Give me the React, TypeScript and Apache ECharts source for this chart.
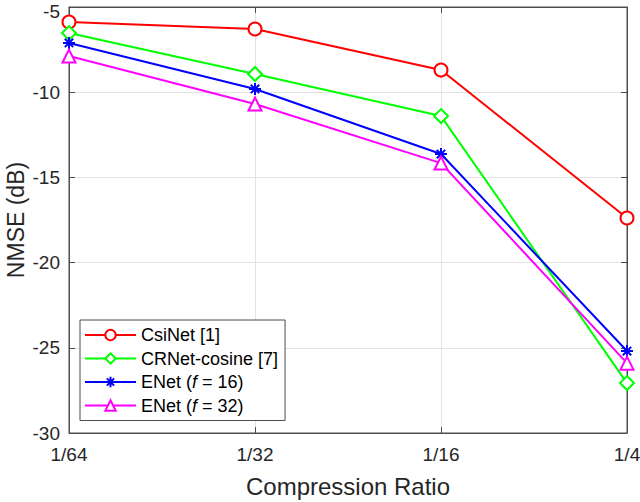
import React, { useEffect, useRef } from "react";
import * as echarts from "echarts";

const categories = ["1/64", "1/32", "1/16", "1/4"];
const csiNet = [-5.88, -6.29, -8.7, -17.38];
const crNetCosine = [-6.53, -8.93, -11.4, -27.07];
const eNet16 = [-7.11, -9.81, -13.63, -25.19];
const eNet32 = [-7.88, -10.69, -14.16, -25.9];
const seriesNames = ["CsiNet [1]", "CRNet-cosine [7]", "ENet (f = 16)", "ENet (f = 32)"];

const AX = "#4d4d4d";
const TXT = "#262626";
const FONT = "Liberation Sans, Arial, sans-serif";
const ASTERISK = "path://M0,-10L0,10M-10,0L10,0M-7,-7L7,7M-7,7L7,-7";

export default function App() {
  const ref = useRef<HTMLDivElement>(null);
  useEffect(() => {
    const chart = echarts.init(ref.current!, null, { renderer: "svg" });
    const mk = (name: string, data: number[], color: string, symbol: string, size: number) => ({
      name,
      type: "line",
      data,
      symbol,
      symbolSize: size,
      showAllSymbol: true,
      lineStyle: { color, width: 2 },
      itemStyle: { color, borderColor: color, borderWidth: 2 },
      emphasis: { disabled: true },
    });
    chart.setOption({
      animation: false,
      textStyle: { fontFamily: FONT },
      grid: {
        left: 69,
        right: 13,
        top: 7,
        bottom: 69,
        containLabel: false,
        outerBoundsMode: "none",
        show: true,
        borderColor: AX,
        borderWidth: 1,
        backgroundColor: "transparent",
      },
      legend: {
        orient: "vertical",
        left: 80,
        top: 320,
        itemWidth: 51,
        itemHeight: 13,
        itemGap: 5.5,
        padding: [6, 7, 6, 4],
        backgroundColor: "#fff",
        borderColor: AX,
        borderWidth: 1,
        textStyle: {
          fontSize: 18,
          color: "#000",
          fontFamily: FONT,
          rich: { i: { fontStyle: "italic", fontSize: 18, color: "#000", fontFamily: FONT } },
        },
        formatter: (n: string) => n.replace("(f ", "({i|f} "),
        data: seriesNames,
      },
      xAxis: [
        {
          type: "category",
          data: categories,
          boundaryGap: false,
          name: "Compression Ratio",
          nameLocation: "middle",
          nameGap: 41,
          nameMoveOverlap: false,
          nameTextStyle: { fontSize: 24, color: TXT },
          axisLine: { lineStyle: { color: AX } },
          axisTick: { inside: true, length: 6, lineStyle: { color: AX } },
          axisLabel: { fontSize: 19, color: TXT, margin: 12 },
          splitLine: { show: true, lineStyle: { color: "#e3e3e3" } },
        },
        {
          type: "category",
          data: categories,
          boundaryGap: false,
          position: "top",
          axisLine: { lineStyle: { color: AX } },
          axisTick: { inside: true, length: 6, lineStyle: { color: AX } },
          axisLabel: { show: false },
          splitLine: { show: false },
        },
      ],
      yAxis: [
        {
          type: "value",
          min: -30,
          max: -5,
          interval: 5,
          name: "NMSE (dB)",
          nameLocation: "middle",
          nameRotate: 90,
          nameGap: 42,
          nameMoveOverlap: false,
          nameTextStyle: { fontSize: 23, color: TXT },
          axisLine: { show: true, lineStyle: { color: AX } },
          axisTick: { show: true, inside: true, length: 6, lineStyle: { color: AX } },
          axisLabel: {
            fontSize: 19,
            color: TXT,
            margin: 9,
            formatter: (v: number) => (v === -5 ? "{t|" + v + "}" : String(v)),
            rich: { t: { fontSize: 19, color: TXT, fontFamily: FONT, padding: [8, 0, 0, 0] } },
          },
          splitLine: { show: true, lineStyle: { color: "#e3e3e3" } },
        },
        {
          type: "value",
          min: -30,
          max: -5,
          interval: 5,
          position: "right",
          axisLine: { show: true, lineStyle: { color: AX } },
          axisTick: { show: true, inside: true, length: 6, lineStyle: { color: AX } },
          axisLabel: { show: false },
          splitLine: { show: false },
        },
      ],
      series: [
        mk(seriesNames[0], csiNet, "#ff0000", "emptyCircle", 13),
        mk(seriesNames[1], crNetCosine, "#00ff00", "emptyDiamond", 14),
        mk(seriesNames[2], eNet16, "#0000ff", ASTERISK, 12),
        mk(seriesNames[3], eNet32, "#ff00ff", "emptyTriangle", 13),
      ],
    });
    return () => chart.dispose();
  }, []);
  return <div ref={ref} style={{ width: 640, height: 502, position: "absolute", left: 0, top: 0, background: "#fff" }} />;
}
